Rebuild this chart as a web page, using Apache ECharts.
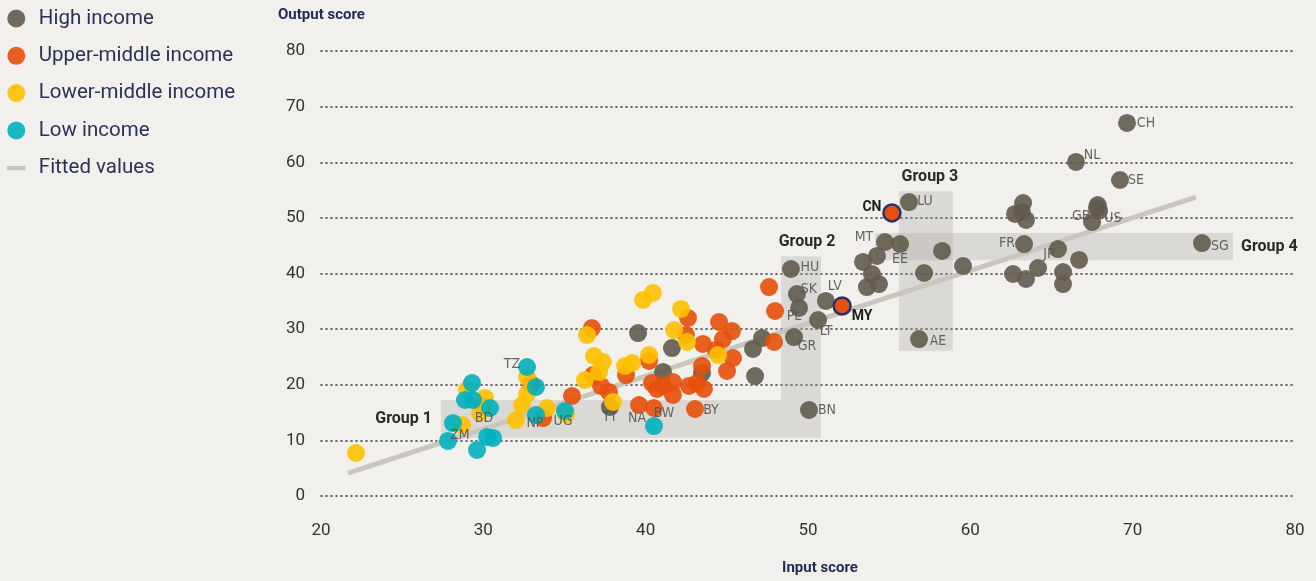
<!DOCTYPE html>
<html>
<head>
<meta charset="utf-8">
<script src="https://cdn.jsdelivr.net/npm/echarts@6/dist/echarts.min.js"></script>
<style>
  html, body { margin: 0; padding: 0; background: #f1f0ed; }
  #chart01 { width: 1316px; height: 581px; }
</style>
</head>
<body>
<div id="chart01"></div>
<script>
// points: [input score, output score, country code]
var highIncome = [
  [69.65, 67.06, 'CH'], [66.51, 60.05, 'NL'], [69.22, 56.81, 'SE'],
  [67.85, 52.3, ''], [67.8, 51.8, 'US'], [67.93, 51.3, ''], [67.5, 49.26, 'GB'],
  [74.27, 45.48, 'SG'], [63.31, 45.3, 'FR'], [65.4, 44.4, 'JP'], [66.7, 42.43, ''],
  [62.63, 39.91, ''], [63.43, 39.01, ''], [64.17, 40.99, ''], [65.71, 40.27, ''],
  [65.71, 38.11, ''], [63.25, 52.67, ''], [62.75, 50.7, ''], [63.43, 49.62, ''],
  [63.18, 51.06, ''], [56.22, 52.85, 'LU'], [54.74, 45.66, 'MT'], [55.67, 45.3, 'EE'],
  [58.26, 44.05, ''], [59.55, 41.35, ''], [57.15, 40.09, ''], [54.25, 43.15, ''],
  [53.39, 42.07, ''], [53.94, 39.91, ''], [53.63, 37.57, ''], [54.37, 38.11, ''],
  [56.84, 28.22, 'AE'], [48.95, 40.81, 'HU'], [49.32, 36.31, 'SK'], [49.45, 33.8, 'PL'],
  [51.1, 35.06, 'LV'], [50.62, 31.64, 'LT'], [49.14, 28.58, 'GR'], [50.06, 15.46, 'BN'],
  [47.17, 28.4, ''], [46.61, 26.43, ''], [46.74, 21.57, ''], [39.53, 29.3, ''],
  [41.62, 26.6, ''], [41.07, 22.3, ''], [43.47, 22.1, ''], [37.8, 16.0, 'TT']
];
var upperMiddle = [
  [55.17, 50.88, 'CN'], [52.1, 34.16, 'MY'], [47.6, 37.57, ''], [47.97, 33.26, ''],
  [47.91, 27.69, ''], [42.61, 32.0, ''], [44.52, 31.28, ''], [45.32, 29.66, ''],
  [42.48, 28.94, ''], [43.53, 27.33, ''], [44.76, 28.22, ''], [44.33, 26.25, ''],
  [45.38, 24.81, ''], [43.47, 23.37, ''], [45.01, 22.47, ''], [41.68, 20.49, ''],
  [42.67, 19.78, ''], [43.16, 20.31, ''], [43.59, 19.24, ''], [41.68, 18.16, ''],
  [43.04, 15.64, 'BY'], [36.69, 30.2, ''], [36.76, 21.75, ''], [37.25, 19.78, ''],
  [37.74, 18.7, ''], [38.79, 21.75, ''], [40.21, 24.27, ''], [40.39, 20.31, ''],
  [40.7, 19.24, ''], [41.07, 19.78, ''], [39.59, 16.36, 'NA'], [40.51, 15.82, 'BW'],
  [35.46, 17.98, ''], [33.68, 14.02, ''], [32.94, 20.13, ''], [29.92, 16.18, '']
];
var lowerMiddle = [
  [22.16, 7.73, ''], [28.99, 19.06, ''], [30.1, 17.62, ''], [29.8, 14.92, ''],
  [28.69, 12.76, ''], [32.69, 21.39, ''], [32.69, 18.34, ''], [32.38, 16.36, ''],
  [32.01, 13.66, ''], [33.92, 15.82, ''], [36.26, 20.85, ''], [36.39, 28.94, ''],
  [36.82, 25.17, ''], [37.37, 24.09, ''], [37.13, 22.29, ''], [37.99, 16.9, ''],
  [38.73, 23.37, ''], [39.16, 23.91, ''], [40.21, 25.35, ''], [39.84, 35.24, ''],
  [40.45, 36.5, ''], [41.75, 29.84, ''], [42.18, 33.62, ''], [42.55, 27.69, ''],
  [44.46, 25.35, ''], [35.09, 14.74, '']
];
var lowIncome = [
  [32.69, 23.19, 'TZ'], [33.24, 19.6, ''], [33.24, 14.56, 'NP'], [29.3, 20.31, ''],
  [28.87, 17.26, ''], [29.36, 17.26, ''], [30.41, 15.82, 'BD'], [28.13, 13.12, 'ZM'],
  [27.82, 9.89, ''], [30.23, 10.61, ''], [30.6, 10.43, ''], [29.61, 8.27, ''],
  [40.51, 12.58, ''], [35.03, 15.28, 'UG']
];
// fitted regression line end points
var fittedLine = [[21.66, 4.13], [73.9, 53.75]];
// shaded groups: name, x from, x to, y from, y to
var groups = [
  ['Group 1', 27.39, 48.34, 10.43, 17.26],
  ['Group 2', 48.34, 50.8, 10.43, 43.1],
  ['Group 3', 55.6, 58.93, 26.1, 54.8],
  ['Group 4', 54.13, 76.18, 42.4, 47.3]
];
var xTicks = [20, 80, 10];
var yTicks = [0, 80, 10];

var seriesNames = ['High income', 'Upper-middle income', 'Lower-middle income', 'Low income', 'Fitted values'];
var colors = ['#625b4e', '#e6500a', '#fec000', '#00b0bd', '#c9c7bd'];

// label placement (text centre relative to point, px)
var labelOffset = {
  CH: [19, 0], NL: [16, -7], SE: [16, 0], GB: [-11, -6], US: [16, 10], SG: [18, 3],
  FR: [-17, -1], JP: [-9, 5], LU: [16, -1], MT: [-21, -5], EE: [0, 15], AE: [19, 2],
  HU: [19, -2], SK: [12, -5], PL: [-5, 8], LV: [9, -15], LT: [8, 11], GR: [13, 9],
  BN: [18, 0], MY: [20, 11], CN: [-20, -5], TZ: [-15, -3], BD: [-6, 10], ZM: [7, 12],
  NP: [-1, 8], UG: [-2, 10], TT: [0, 10], NA: [-2, 13], BW: [10, 5], BY: [16, 1]
};
var boldCodes = { CN: true, MY: true };
var labelFont = "'Liberation Sans Narrow', 'DejaVu Sans Condensed', Roboto, sans-serif";

function toItems(arr) {
  return arr.map(function (p) {
    var item = { value: [p[0], p[1]] };
    if (p[2]) {
      var bold = boldCodes[p[2]];
      item.label = {
        show: true,
        formatter: p[2],
        position: 'inside',
        offset: labelOffset[p[2]] || [14, 0],
        color: bold ? '#1e1e1e' : '#555550',
        fontWeight: bold ? 'bold' : 'normal',
        fontFamily: bold ? 'Roboto' : labelFont,
        fontSize: 14
      };
      if (bold) {
        item.itemStyle = { borderColor: '#24336e', borderWidth: 2.5, opacity: 1 };
        item.symbolSize = 17;
      }
    }
    return item;
  });
}

function scatterSeries(idx, arr) {
  return {
    name: seriesNames[idx],
    type: 'scatter',
    z: 4,
    symbolSize: 18,
    itemStyle: { color: colors[idx], opacity: 0.9 },
    emphasis: { disabled: true },
    data: toItems(arr)
  };
}

var groupLabel = {
  'Group 1': { position: 'left', distance: 9 },
  'Group 2': { position: 'top', distance: 6, offset: [6, 0] },
  'Group 3': { position: 'top', distance: 6, offset: [4, 0] },
  'Group 4': { position: 'right', distance: 8 }
};

var areaData = groups.map(function (g) {
  var lab = groupLabel[g[0]];
  return [
    {
      name: g[0], xAxis: g[1], yAxis: g[4],
      label: {
        show: true, position: lab.position, distance: lab.distance, offset: lab.offset || [0, 0],
        fontFamily: 'Roboto', fontWeight: 'bold', fontSize: 16, color: '#2a2a2a'
      }
    },
    { xAxis: g[2], yAxis: g[3] }
  ];
});

var myChart01 = echarts.init(document.getElementById('chart01'));
var option = {
  backgroundColor: '#f1f0ed',
  animation: false,
  title: [
    { text: 'Output score', left: 278, top: 8, padding: 0,
      textStyle: { fontFamily: 'Roboto', fontWeight: 'bold', fontSize: 15, color: '#232b58' } },
    { text: 'Input score', left: 782, top: 561, padding: 0,
      textStyle: { fontFamily: 'Roboto', fontWeight: 'bold', fontSize: 15, color: '#232b58' } }
  ],
  legend: {
    orient: 'vertical',
    left: 2,
    top: 3,
    itemWidth: 35,
    itemHeight: 18,
    itemGap: 16.3,
    selectedMode: false,
    textStyle: { fontFamily: 'Roboto', fontSize: 20.5, lineHeight: 18, color: '#2b3158' },
    data: [
      { name: seriesNames[0], icon: 'circle' },
      { name: seriesNames[1], icon: 'circle' },
      { name: seriesNames[2], icon: 'circle' },
      { name: seriesNames[3], icon: 'circle' },
      { name: seriesNames[4], icon: 'path://M0,0L0.01,0L0.01,0.01Z M0,7.2L18.6,7.2L18.6,11.5L0,11.5Z M18.59,17.99L18.6,17.99L18.6,18Z' }
    ]
  },
  grid: { left: 321, right: 21, top: 51, bottom: 85 },
  xAxis: {
    type: 'value',
    min: xTicks[0], max: xTicks[1], interval: xTicks[2],
    axisLine: { show: false },
    axisTick: { show: false },
    splitLine: { show: false },
    axisLabel: { margin: 26, fontFamily: 'Roboto', fontSize: 17, color: '#333333' }
  },
  yAxis: {
    type: 'value',
    min: yTicks[0], max: yTicks[1], interval: yTicks[2],
    axisLine: { show: false },
    axisTick: { show: false },
    splitLine: { show: true, lineStyle: { color: '#6e6e6b', width: 1.8, type: [1, 4], cap: 'round' } },
    axisLabel: { margin: 16, fontFamily: 'Roboto', fontSize: 17, color: '#333333' }
  },
  series: [
    {
      name: 'groups',
      type: 'scatter',
      z: 1,
      data: [],
      markArea: {
        silent: true,
        itemStyle: { color: 'rgba(168,166,158,0.3)' },
        data: areaData
      }
    },
    {
      name: seriesNames[4],
      type: 'line',
      z: 2,
      symbol: 'none',
      silent: true,
      lineStyle: { color: colors[4], width: 5 },
      itemStyle: { color: colors[4] },
      data: fittedLine
    },
    scatterSeries(0, highIncome),
    scatterSeries(1, upperMiddle),
    scatterSeries(2, lowerMiddle),
    scatterSeries(3, lowIncome)
  ]
};
myChart01.setOption(option);
</script>
</body>
</html>
